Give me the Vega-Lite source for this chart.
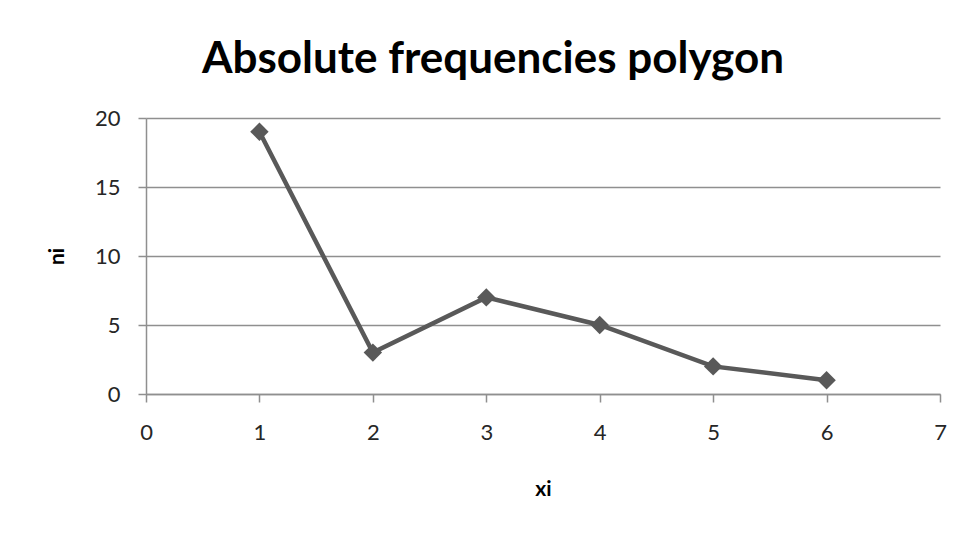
{
  "$schema": "https://vega.github.io/schema/vega-lite/v6.json",
  "width": 794,
  "height": 276,
  "autosize": {"type": "none"},
  "padding": {"left": 146, "top": 118, "right": 28, "bottom": 140},
  "background": "white",
  "title": {
    "text": "Absolute frequencies polygon",
    "font": "Lato",
    "fontSize": 44,
    "fontWeight": "bold",
    "color": "black",
    "anchor": "middle",
    "baseline": "alphabetic",
    "offset": 45,
    "dx": -50,
    "dy": 55
  },
  "data": {
    "values": [
      {"xi": 1, "ni": 19},
      {"xi": 2, "ni": 3},
      {"xi": 3, "ni": 7},
      {"xi": 4, "ni": 5},
      {"xi": 5, "ni": 2},
      {"xi": 6, "ni": 1}
    ]
  },
  "encoding": {
    "x": {
      "field": "xi",
      "type": "quantitative",
      "scale": {"domain": [0, 7], "nice": false, "zero": false},
      "axis": {
        "title": "xi",
        "values": [0, 1, 2, 3, 4, 5, 6, 7],
        "grid": false,
        "tickSize": 8,
        "labelFlush": false,
        "labelPadding": 20,
        "titlePadding": 35
      }
    },
    "y": {
      "field": "ni",
      "type": "quantitative",
      "scale": {"domain": [0, 20], "nice": false},
      "axis": {
        "title": "ni",
        "values": [0, 5, 10, 15, 20],
        "grid": true,
        "tickSize": 8,
        "labelFlush": false,
        "labelPadding": 18,
        "titlePadding": 27
      }
    }
  },
  "layer": [
    {"mark": {"type": "line", "color": "#595959", "strokeWidth": 4.5}},
    {"mark": {"type": "point", "shape": "diamond", "filled": true, "opacity": 1, "color": "#595959", "size": 340}}
  ],
  "config": {
    "view": {"stroke": null},
    "axis": {
      "domainColor": "#8f8f8f",
      "domainWidth": 1.5,
      "tickColor": "#8f8f8f",
      "tickWidth": 1.5,
      "gridColor": "#8f8f8f",
      "gridWidth": 1.5,
      "labelFont": "Lato",
      "labelFontSize": 22,
      "labelColor": "#262626",
      "titleFont": "Lato",
      "titleFontSize": 21,
      "titleFontWeight": "bold",
      "titleColor": "black"
    }
  }
}
